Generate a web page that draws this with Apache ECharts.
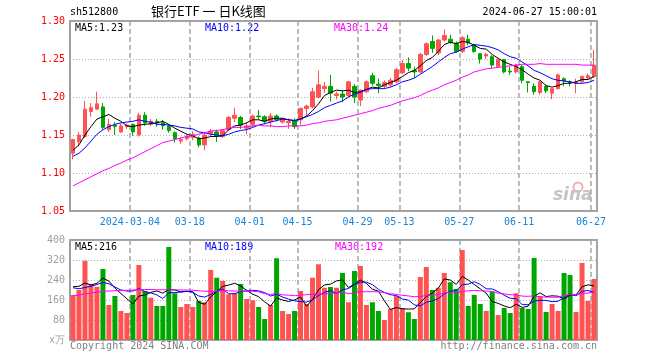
<!DOCTYPE html>
<html><head><meta charset="utf-8">
<script src="https://cdn.jsdelivr.net/npm/echarts@6/dist/echarts.min.js"></script>
<style>html,body{margin:0;padding:0;background:#fff}#c{width:660px;height:360px}</style>
</head><body><div id="c"></div>
<script>
const categories = [
'2024-02-19','2024-02-20','2024-02-21','2024-02-22','2024-02-23','2024-02-26','2024-02-27','2024-02-28','2024-02-29',
'2024-03-01','2024-03-04','2024-03-05','2024-03-06','2024-03-07','2024-03-08','2024-03-11','2024-03-12','2024-03-13','2024-03-14','2024-03-15',
'2024-03-18','2024-03-19','2024-03-20','2024-03-21','2024-03-22','2024-03-25','2024-03-26','2024-03-27','2024-03-28','2024-03-29',
'2024-04-01','2024-04-02','2024-04-03','2024-04-08','2024-04-09','2024-04-10','2024-04-11','2024-04-12','2024-04-15','2024-04-16',
'2024-04-17','2024-04-18','2024-04-19','2024-04-22','2024-04-23','2024-04-24','2024-04-25','2024-04-26','2024-04-29','2024-04-30',
'2024-05-06','2024-05-07','2024-05-08','2024-05-09','2024-05-10','2024-05-13','2024-05-14','2024-05-15','2024-05-16','2024-05-17',
'2024-05-20','2024-05-21','2024-05-22','2024-05-23','2024-05-24','2024-05-27','2024-05-28','2024-05-29','2024-05-30','2024-05-31',
'2024-06-03','2024-06-04','2024-06-05','2024-06-06','2024-06-07','2024-06-11','2024-06-12','2024-06-13','2024-06-14','2024-06-17',
'2024-06-18','2024-06-19','2024-06-20','2024-06-21','2024-06-24','2024-06-25','2024-06-26','2024-06-27'];

const openP = [1.126,1.141,1.148,1.181,1.184,1.187,1.157,1.163,1.154,1.161,1.164,1.150,1.176,1.164,1.168,1.166,1.162,1.153,1.142,1.145,
1.147,1.146,1.137,1.152,1.154,1.148,1.157,1.172,1.173,1.159,1.164,1.175,1.174,1.168,1.175,1.167,1.166,1.169,1.170,1.185,
1.187,1.200,1.211,1.214,1.202,1.204,1.202,1.214,1.196,1.207,1.228,1.217,1.214,1.216,1.220,1.232,1.244,1.235,1.233,1.256,
1.273,1.258,1.275,1.276,1.271,1.260,1.276,1.268,1.257,1.254,1.253,1.240,1.249,1.234,1.233,1.240,1.220,1.214,1.206,1.214,
1.205,1.211,1.224,1.220,1.218,1.220,1.225,1.227];
const closeP = [1.144,1.150,1.184,1.186,1.191,1.160,1.164,1.161,1.162,1.163,1.154,1.176,1.166,1.168,1.166,1.162,1.156,1.145,1.144,1.148,
1.151,1.137,1.150,1.155,1.149,1.156,1.173,1.176,1.163,1.162,1.175,1.174,1.168,1.175,1.170,1.171,1.168,1.161,1.185,1.188,
1.207,1.216,1.214,1.205,1.204,1.200,1.220,1.200,1.209,1.220,1.218,1.215,1.219,1.222,1.236,1.244,1.238,1.233,1.256,1.270,
1.264,1.275,1.281,1.272,1.260,1.278,1.271,1.260,1.250,1.256,1.242,1.249,1.233,1.233,1.242,1.222,1.219,1.207,1.220,1.208,
1.211,1.229,1.221,1.219,1.220,1.227,1.228,1.242];
const lowP = [1.118,1.135,1.146,1.174,1.183,1.157,1.154,1.150,1.153,1.158,1.149,1.148,1.162,1.162,1.161,1.157,1.153,1.140,1.138,1.143,
1.143,1.134,1.130,1.148,1.141,1.146,1.155,1.167,1.158,1.151,1.160,1.170,1.164,1.160,1.168,1.165,1.158,1.158,1.163,1.174,
1.185,1.198,1.205,1.194,1.197,1.193,1.200,1.192,1.188,1.205,1.215,1.205,1.211,1.213,1.218,1.230,1.234,1.225,1.231,1.254,
1.258,1.255,1.273,1.270,1.258,1.258,1.268,1.258,1.244,1.250,1.238,1.238,1.231,1.229,1.231,1.218,1.206,1.203,1.203,1.205,
1.197,1.210,1.214,1.214,1.205,1.219,1.222,1.225];
const highP = [1.145,1.154,1.195,1.192,1.207,1.192,1.171,1.167,1.165,1.165,1.165,1.179,1.180,1.171,1.171,1.170,1.164,1.155,1.147,1.151,
1.155,1.148,1.154,1.158,1.157,1.158,1.175,1.186,1.175,1.166,1.177,1.183,1.176,1.179,1.177,1.173,1.172,1.172,1.186,1.190,
1.212,1.235,1.220,1.229,1.207,1.209,1.221,1.217,1.210,1.222,1.232,1.224,1.222,1.225,1.238,1.249,1.252,1.240,1.258,1.272,
1.281,1.276,1.289,1.282,1.273,1.280,1.282,1.270,1.258,1.258,1.255,1.251,1.250,1.240,1.244,1.242,1.221,1.218,1.221,1.216,
1.212,1.231,1.226,1.222,1.224,1.228,1.231,1.262];

const ma5 = [1.130,1.137,1.150,1.161,1.171,1.174,1.177,1.172,1.168,1.162,1.161,1.163,1.164,1.165,1.166,1.168,1.164,1.159,1.155,1.151,
1.149,1.145,1.146,1.148,1.148,1.149,1.157,1.162,1.163,1.166,1.170,1.170,1.168,1.171,1.172,1.172,1.170,1.169,1.171,1.175,
1.182,1.191,1.202,1.206,1.209,1.208,1.209,1.206,1.207,1.210,1.213,1.212,1.216,1.219,1.222,1.227,1.232,1.235,1.241,1.248,
1.252,1.260,1.269,1.272,1.270,1.273,1.272,1.268,1.264,1.263,1.256,1.251,1.246,1.243,1.240,1.236,1.230,1.225,1.222,1.215,
1.213,1.215,1.218,1.218,1.220,1.223,1.223,1.227];
const ma10 = [1.122,1.126,1.133,1.142,1.151,1.157,1.161,1.164,1.166,1.167,1.168,1.170,1.168,1.167,1.164,1.164,1.163,1.162,1.160,1.159,
1.158,1.154,1.153,1.151,1.150,1.149,1.151,1.154,1.156,1.157,1.160,1.163,1.165,1.167,1.169,1.171,1.170,1.169,1.171,1.174,
1.177,1.181,1.186,1.189,1.192,1.195,1.200,1.204,1.206,1.210,1.211,1.211,1.211,1.213,1.216,1.220,1.222,1.225,1.230,1.235,
1.240,1.246,1.252,1.257,1.259,1.263,1.266,1.269,1.268,1.267,1.265,1.262,1.257,1.253,1.251,1.246,1.241,1.235,1.232,1.228,
1.224,1.222,1.221,1.220,1.218,1.218,1.219,1.222];
const ma30 = [1.083,1.087,1.091,1.095,1.099,1.103,1.106,1.110,1.113,1.117,1.120,1.124,1.128,1.132,1.136,1.140,1.142,1.144,1.146,1.148,
1.149,1.151,1.153,1.155,1.156,1.157,1.159,1.160,1.160,1.161,1.162,1.163,1.162,1.162,1.161,1.161,1.162,1.162,1.162,1.163,
1.165,1.166,1.168,1.169,1.170,1.172,1.174,1.176,1.178,1.180,1.182,1.185,1.187,1.189,1.192,1.195,1.197,1.199,1.202,1.206,
1.209,1.212,1.216,1.219,1.222,1.226,1.229,1.233,1.235,1.237,1.238,1.239,1.240,1.241,1.242,1.243,1.243,1.243,1.244,1.243,
1.243,1.243,1.243,1.243,1.243,1.242,1.242,1.242];

const volume = [180,200,317,224,213,284,140,176,116,108,180,300,196,169,136,136,372,187,132,144,
132,156,151,280,249,236,183,187,224,164,159,132,84,140,327,116,104,116,196,144,
249,303,209,212,209,268,151,276,296,140,151,116,80,124,177,127,111,84,252,292,
200,209,268,231,204,360,136,180,144,116,193,100,128,108,187,128,124,328,176,112,
144,116,268,260,112,308,156,244];
const volMa5 = [213,215,228,220,226.8,247.6,235.6,207.4,185.8,164.8,144,176,180,190.6,196.2,187.4,201.8,200,192.6,194.2,
193.4,150.2,143,172.6,193.6,214.4,219.8,227,215.8,198.8,183.4,173.2,152.6,135.8,168.4,159.8,154.2,160.6,171.8,135.2,
161.8,201.6,220.2,223.4,236.4,240.2,209.8,223.2,240,226.2,202.8,195.8,156.6,122.2,129.6,124.8,123.8,124.6,150.2,173.2,
187.8,207.4,244.2,240,222.4,254.4,239.8,222.2,204.8,187.2,153.8,146.6,136.2,129,143.2,130.2,135,175,188.6,173.6,
176.8,175.2,163.2,180,180,212.8,220.8,216];
const volMa10 = [209,205,210,215,222,230,225,212,200,195.8,195.8,205.8,193.7,188.2,180.5,165.7,188.9,190,191.6,195.2,
190.4,176,171.5,182.6,193.9,203.9,185,185,194.2,196.2,198.9,196.5,189.8,175.8,183.6,171.6,163.7,156.6,153.8,151.8,
160.8,177.9,190.4,197.6,185.8,201,205.7,221.7,231.7,231.3,221.5,202.8,189.9,181.1,177.9,163.8,159.8,140.6,136.2,151.4,
156.3,165.6,184.4,195.1,197.8,221.1,223.6,233.2,222.4,204.8,204.1,193.2,179.2,166.9,165.2,142,140.8,155.6,158.8,158.4,
153.5,155.1,169.1,184.3,176.8,194.8,198,189.6];
const volMa30 = [177,180,184,188,191,195,196,197,198,199,200,201,202,202,201,201,201,201,200,200,
199,197,195,194,195,197,197,196,196,195.7,195,192.8,185,182.2,186,180.4,179.2,177.2,179.9,181.1,
183.4,183.5,183.9,185.3,187.8,192.2,184.8,187.8,193.2,193.1,193.7,192.4,190,184.8,182.4,178.8,176.4,173,173.9,178.2,
179.5,182.1,188.2,191.3,187.2,195.3,196.4,198.5,196.8,195.8,194,187.2,184.5,181,180.3,175.6,174.7,176.5,172.5,171.5,
171.3,171.3,177.6,182.1,179.9,186,187.5,192.8];

const dateTickIdx = [10,20,30,38,48,55,65,75,87];
const priceMin = 1.05, priceMax = 1.30, priceStep = 0.05;
const volMin = 0, volMax = 400, volStep = 80;
const legendMain = ['MA5:1.23','MA10:1.22','MA30:1.24'];
const legendVol = ['MA5:216','MA10:189','MA30:192'];

const UP = '#ff5353', DOWN = '#00a600';
const MONO = '"DejaVu Sans Mono", "Liberation Mono", monospace';
const tickSet = new Set(dateTickIdx);
const isTick = (i) => tickSet.has(i);

const kData = categories.map((_, i) => [openP[i], closeP[i], lowP[i], highP[i]]);
const volData = volume.map((v, i) => ({ value: v, itemStyle: { color: closeP[i] >= openP[i] ? UP : DOWN } }));

const splitV = { show: true, interval: (i) => isTick(i), lineStyle: { color: '#a8a8a8', type: [5, 3], width: 1.5 } };
const splitH = { show: true, lineStyle: { color: '#b0b0b0', type: [1, 2], width: 1 } };

const chart = echarts.init(document.getElementById('c'), null, { renderer: 'canvas' });
chart.setOption({
  animation: false,
  backgroundColor: '#fff',
  grid: [
    { left: 70, top: 21, width: 527, height: 190, show: true, borderColor: '#a0a0a0', borderWidth: 2 },
    { left: 70, top: 240, width: 527, height: 100, show: true, borderColor: '#a0a0a0', borderWidth: 2 }
  ],
  xAxis: [
    { type: 'category', gridIndex: 0, data: categories, boundaryGap: true,
      axisLine: { show: false }, axisTick: { show: false }, splitLine: splitV,
      axisLabel: { interval: (i) => isTick(i), color: '#1b84d6', fontFamily: MONO, fontSize: 10, margin: 6,
        padding: [0, 6, 0, 0],
        formatter: (v, i) => (i === dateTickIdx[0] ? v : v.slice(5)) } },
    { type: 'category', gridIndex: 1, data: categories, boundaryGap: true,
      axisLine: { show: false }, axisTick: { show: false }, axisLabel: { show: false }, splitLine: splitV }
  ],
  yAxis: [
    { type: 'value', gridIndex: 0, min: priceMin, max: priceMax, interval: priceStep, scale: true,
      axisLine: { show: false }, axisTick: { show: false }, splitLine: splitH,
      axisLabel: { color: '#ff0000', fontFamily: MONO, fontSize: 10, margin: 5, formatter: (v) => v.toFixed(2) } },
    { type: 'value', gridIndex: 1, min: volMin, max: volMax, interval: volStep,
      axisLine: { show: false }, axisTick: { show: false }, splitLine: splitH,
      axisLabel: { color: '#a0a0a0', fontFamily: MONO, fontSize: 10, margin: 5, formatter: (v) => (v === 0 ? 'x万' : String(v)) } }
  ],
  series: [
    { type: 'candlestick', xAxisIndex: 0, yAxisIndex: 0, data: kData, barWidth: 4,
      itemStyle: { color: UP, color0: DOWN, borderColor: UP, borderColor0: DOWN, borderWidth: 1 } },
    { type: 'line', xAxisIndex: 0, yAxisIndex: 0, data: ma5, symbol: 'none', lineStyle: { color: '#000', width: 1 } },
    { type: 'line', xAxisIndex: 0, yAxisIndex: 0, data: ma10, symbol: 'none', lineStyle: { color: '#0000ff', width: 1 } },
    { type: 'line', xAxisIndex: 0, yAxisIndex: 0, data: ma30, symbol: 'none', lineStyle: { color: '#ff00ff', width: 1 } },
    { type: 'bar', xAxisIndex: 1, yAxisIndex: 1, data: volData, barWidth: 5 },
    { type: 'line', xAxisIndex: 1, yAxisIndex: 1, data: volMa5, symbol: 'none', lineStyle: { color: '#000', width: 1 } },
    { type: 'line', xAxisIndex: 1, yAxisIndex: 1, data: volMa10, symbol: 'none', lineStyle: { color: '#0000ff', width: 1 } },
    { type: 'line', xAxisIndex: 1, yAxisIndex: 1, data: volMa30, symbol: 'none', lineStyle: { color: '#ff00ff', width: 1 } }
  ],
  graphic: [
    { type: 'text', left: 70, top: 7, style: { text: 'sh512800', font: '10px ' + MONO, fill: '#000' } },
    { type: 'text', left: 151, top: 5, style: { text: '银行ETF 一 日K线图', font: '13px "Noto Sans CJK SC", sans-serif', fill: '#000' } },
    { type: 'text', right: 63, top: 7, style: { text: '2024-06-27 15:00:01', font: '10px ' + MONO, fill: '#000' } },
    { type: 'text', left: 75, top: 23, style: { text: legendMain[0], font: '10px ' + MONO, fill: '#000' } },
    { type: 'text', left: 205, top: 23, style: { text: legendMain[1], font: '10px ' + MONO, fill: '#0000ff' } },
    { type: 'text', left: 334, top: 23, style: { text: legendMain[2], font: '10px ' + MONO, fill: '#ff00ff' } },
    { type: 'text', left: 75, top: 242, style: { text: legendVol[0], font: '10px ' + MONO, fill: '#000' } },
    { type: 'text', left: 205, top: 242, style: { text: legendVol[1], font: '10px ' + MONO, fill: '#0000ff' } },
    { type: 'text', left: 335, top: 242, style: { text: legendVol[2], font: '10px ' + MONO, fill: '#ff00ff' } },
    { type: 'text', left: 70, top: 341, style: { text: 'Copyright 2024 SINA.COM', font: '10px ' + MONO, fill: '#808080' } },
    { type: 'text', right: 63, top: 341, style: { text: 'http://finance.sina.com.cn', font: '10px ' + MONO, fill: '#808080' } },
    { type: 'group', left: 553, top: 180, children: [
      { type: 'circle', shape: { cx: 25, cy: 6, r: 4.5 }, style: { fill: 'none', stroke: '#f4b0b0', lineWidth: 2 } },
      { type: 'text', x: 0, y: 6, style: { text: 'sina', font: 'italic bold 17px "DejaVu Sans", sans-serif', fill: '#c4c4c4' } }
    ] }
  ]
});
</script></body></html>
